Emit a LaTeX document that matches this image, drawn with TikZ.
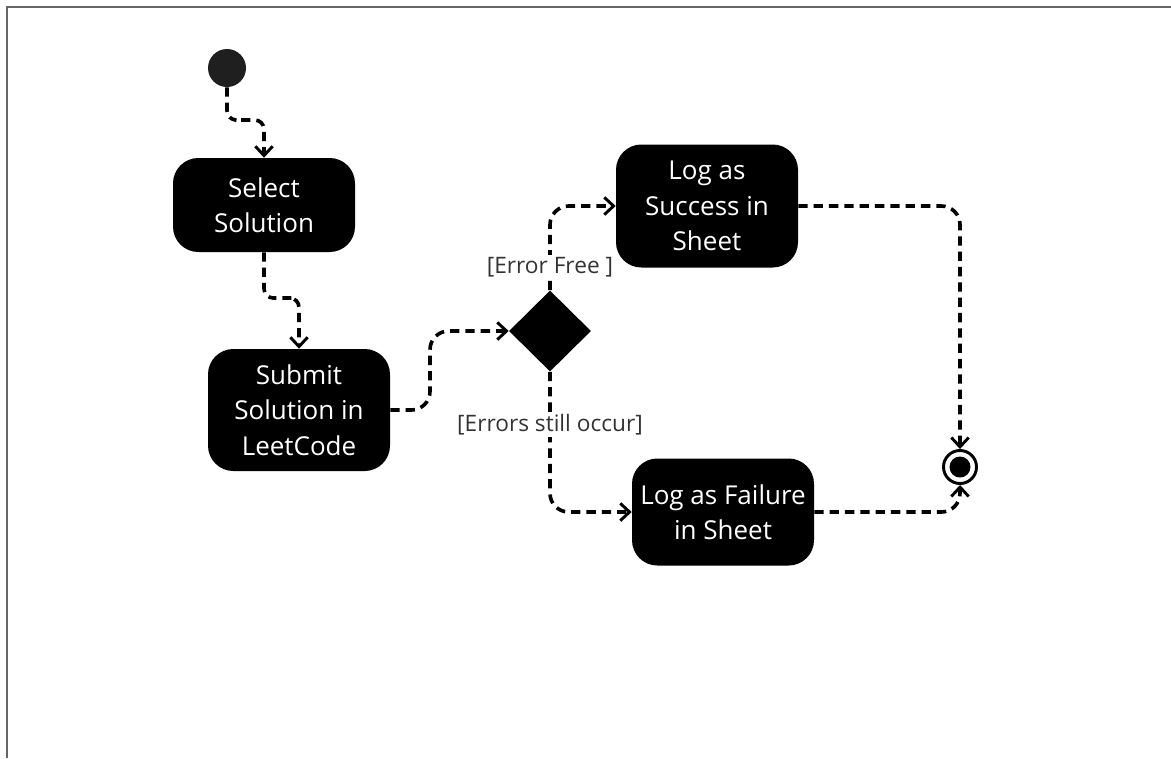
\documentclass[tikz,border=0pt]{standalone}
\usepackage{fontspec}
\setmainfont{Open Sans}
\usetikzlibrary{arrows.meta,shapes.geometric}
\begin{document}
\begin{tikzpicture}[x=0.75pt,y=-0.75pt,
  act/.style={draw=none,fill=black,rounded corners=19,text=white,align=center,
    font=\fontsize{19.5}{26.6}\selectfont,inner sep=0pt},
  flow/.style={draw=black,line width=2.7pt,dash pattern=on 7pt off 4.5pt,rounded corners=14,
    -{Straight Barb[length=7pt,width=13pt,line width=2.2pt]}},
  guard/.style={text=black!80,fill=white,font=\fontsize{17}{18}\selectfont,inner sep=1.5pt}]
\useasboundingbox (0,0) rectangle (1171,758);
\draw[gray!80!black,line width=1.5pt] (1171,7) -- (7,7) -- (7,758);
% nodes
\node[circle,fill=black!88,minimum size=38*0.75pt,inner sep=0pt] (st) at (227,68) {};
\node[act,minimum width=182*0.75pt,minimum height=94*0.75pt] (sel) at (264,205) {Select\\Solution};
\node[act,minimum width=182*0.75pt,minimum height=122*0.75pt] (sub) at (299,410) {Submit\\Solution in\\LeetCode};
\node[diamond,fill=black,minimum width=82*0.75pt,minimum height=81*0.75pt,inner sep=0pt] (dec) at (550,331) {};
\node[act,minimum width=182*0.75pt,minimum height=123*0.75pt] (suc) at (707,206) {Log as\\Success in\\Sheet};
\node[act,minimum width=182*0.75pt,minimum height=107*0.75pt] (fail) at (723,512) {Log as Failure\\in Sheet};
\node[circle,draw=black,line width=2.2pt,fill=white,minimum size=33*0.75pt,inner sep=0pt] (end) at (960,467) {};
\node[circle,fill=black,minimum size=21*0.75pt,inner sep=0pt] (endin) at (end.center) {};
% helper coordinates
\coordinate (m1) at (244,120);
\coordinate (m2) at (282,298);
\coordinate (m3) at (430,370);
% connectors
\draw[flow,rounded corners=7] (st.south) |- (m1) -| (sel.north);
\draw[flow,rounded corners=7] (sel.south) |- (m2) -| (sub.north);
\draw[flow] (sub.east) -| (m3) |- (dec.west);
\draw[flow] (dec.north) |- (suc.west);
\draw[flow] (dec.south) |- (fail.west);
\draw[flow] (suc.east) -| (end.north);
\draw[flow] (fail.east) -| (end.south);
% guards
\node[guard] (g1) at (550,267) {[Error Free ]};
\node[guard] (g2) at (550,425) {[Errors still occur]};
\end{tikzpicture}
\end{document}
